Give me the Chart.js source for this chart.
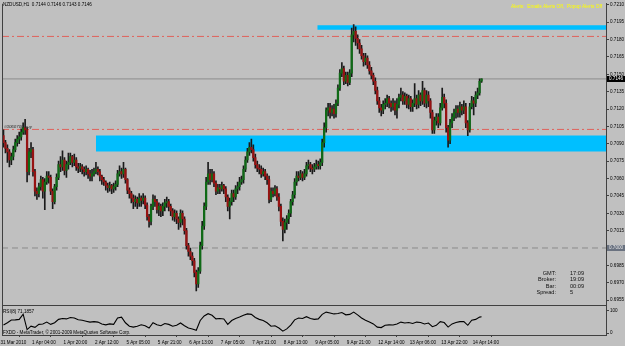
<!DOCTYPE html>
<html>
<head>
<meta charset="utf-8">
<script src="https://cdn.jsdelivr.net/npm/chart.js@4.4.0/dist/chart.umd.min.js"></script>
<style>
  html, body { margin: 0; padding: 0; background: #c0c0c0; }
  canvas { display: block; }
</style>
</head>
<body>
<canvas id="chart" width="625" height="346"></canvas>
<script>
// NZDUSD H1 candles, prices in pips (x 0.0001), open = previous close
const firstOpen = 7097;
const closes = [
  7091,7086,7083,7076,7079,7085,7091,7094,7096,7100,
  7104,7102,7066,7083,7085,7066,7049,7047,7053,7059,
  7049,7057,7062,7061,7049,7040,7053,7061,7072,7070,
  7076,7067,7072,7074,7079,7074,7076,7070,7069,7070,
  7068,7066,7068,7064,7062,7064,7066,7068,7066,7062,
  7059,7057,7054,7052,7054,7051,7053,7055,7064,7066,
  7064,7068,7059,7050,7047,7043,7040,7042,7039,7043,
  7041,7043,7037,7027,7023,7036,7042,7040,7033,7036,
  7032,7036,7039,7040,7036,7032,7027,7030,7025,7022,
  7030,7025,7015,7002,6997,6993,6989,6979,6969,6980,
  7002,7019,7036,7057,7064,7059,7064,7056,7049,7052,
  7051,7054,7051,7044,7036,7040,7047,7044,7051,7053,
  7057,7059,7068,7076,7083,7087,7085,7078,7072,7069,
  7068,7064,7066,7062,7059,7042,7049,7047,7051,7044,
  7036,7023,7016,7022,7025,7030,7040,7046,7057,7062,
  7061,7064,7061,7064,7071,7072,7069,7068,7070,7072,
  7071,7074,7091,7104,7119,7121,7117,7120,7116,7125,
  7138,7151,7155,7144,7149,7143,7151,7184,7187,7181,
  7177,7172,7166,7161,7164,7158,7153,7149,7144,7136,
  7127,7121,7119,7124,7125,7129,7125,7122,7125,7119,
  7124,7130,7132,7127,7131,7124,7129,7122,7125,7129,
  7124,7132,7127,7136,7125,7132,7127,7117,7102,7110,
  7113,7108,7121,7130,7125,7104,7093,7108,7113,7117,
  7120,7117,7122,7119,7122,7108,7102,7122,7127,7125,
  7132,7134,7144,7146
];
const highs = [
  7102,7093,7089,7085,7082,7088,7094,7097,7100,7103,
  7108,7111,7104,7086,7091,7087,7068,7052,7056,7062,
  7061,7060,7066,7066,7063,7051,7055,7064,7075,7079,
  7084,7078,7075,7082,7082,7080,7081,7078,7073,7073,
  7072,7070,7071,7069,7067,7068,7069,7074,7070,7068,
  7063,7061,7058,7056,7057,7055,7056,7058,7067,7071,
  7069,7074,7069,7060,7052,7049,7046,7045,7044,7047,
  7045,7047,7045,7039,7029,7038,7046,7045,7042,7039,
  7038,7039,7042,7044,7042,7038,7034,7033,7032,7027,
  7033,7032,7027,7017,7004,7000,6996,6991,6981,6983,
  7005,7023,7039,7061,7074,7068,7068,7066,7058,7055,
  7055,7057,7055,7053,7046,7043,7050,7050,7054,7057,
  7061,7062,7071,7079,7086,7091,7094,7089,7081,7075,
  7072,7071,7069,7068,7064,7062,7052,7052,7054,7053,
  7047,7038,7026,7025,7028,7033,7042,7049,7060,7066,
  7066,7067,7066,7068,7074,7076,7074,7072,7073,7076,
  7075,7077,7094,7108,7121,7125,7125,7123,7124,7128,
  7141,7154,7160,7157,7152,7152,7154,7190,7193,7191,
  7184,7180,7175,7168,7168,7166,7161,7156,7151,7147,
  7139,7130,7124,7127,7129,7132,7131,7127,7129,7127,
  7129,7133,7138,7135,7134,7133,7132,7131,7128,7142,
  7132,7136,7134,7144,7138,7136,7135,7129,7119,7113,
  7116,7116,7125,7138,7133,7128,7106,7111,7116,7120,
  7123,7123,7126,7124,7127,7125,7110,7125,7131,7130,
  7135,7138,7146,7146
];
const lows = [
  7087,7082,7074,7070,7072,7076,7083,7088,7090,7093,
  7098,7098,7057,7063,7078,7062,7045,7042,7044,7050,
  7043,7033,7055,7056,7046,7034,7038,7050,7059,7066,
  7067,7063,7061,7068,7072,7070,7071,7067,7065,7066,
  7064,7062,7063,7060,7058,7058,7062,7064,7063,7058,
  7055,7054,7050,7048,7049,7047,7048,7050,7053,7062,
  7060,7061,7056,7047,7043,7039,7034,7036,7034,7036,
  7036,7038,7034,7024,7018,7020,7033,7036,7030,7028,
  7027,7028,7032,7035,7032,7028,7024,7023,7021,7016,
  7018,7020,7012,6999,6993,6990,6985,6975,6963,6966,
  6978,6999,7016,7033,7055,7055,7057,7053,7046,7047,
  7047,7049,7047,7040,7032,7025,7037,7040,7042,7047,
  7050,7055,7056,7066,7074,7080,7082,7075,7069,7066,
  7064,7061,7062,7059,7055,7039,7040,7044,7045,7041,
  7032,7019,7006,7013,7016,7021,7027,7037,7043,7054,
  7058,7059,7058,7059,7062,7068,7066,7064,7066,7068,
  7068,7068,7071,7087,7100,7114,7112,7114,7112,7113,
  7123,7136,7148,7141,7142,7140,7141,7148,7178,7175,
  7172,7168,7163,7157,7158,7155,7150,7146,7141,7133,
  7124,7117,7114,7116,7120,7122,7121,7118,7119,7115,
  7112,7121,7127,7124,7124,7121,7120,7118,7118,7122,
  7120,7121,7123,7124,7122,7121,7122,7112,7099,7099,
  7106,7104,7106,7119,7121,7100,7087,7090,7104,7110,
  7112,7113,7113,7115,7116,7104,7097,7100,7120,7115,
  7122,7129,7132,7143
];

// RSI(8) sampled at these bars
const rsiBars = [
  0,2,4,6,8,10,12,14,16,18,20,22,24,26,28,30,32,34,36,38,
  40,42,44,46,48,50,52,54,56,58,60,62,64,66,68,70,72,74,76,78,
  80,82,84,86,88,90,92,94,96,98,100,102,104,106,108,110,112,114,116,118,
  120,122,124,126,128,130,132,134,136,138,140,142,144,146,148,150,152,154,156,158,
  160,162,164,166,168,170,172,174,176,178,180,182,184,186,188,190,192,194,196,198,
  200,202,204,206,208,210,212,214,216,218,220,222,224,226,228,230,232,234,236,238,
  240,242,243
];
const rsiValues = [
  35,45,57,58,60,83,15,30,25,38,40,48,38,45,60,64,62,68,66,58,
  56,52,48,50,48,40,36,40,38,66,70,45,30,26,30,36,32,22,45,36,
  32,42,38,30,34,44,32,22,18,12,55,75,85,78,62,64,62,38,55,64,
  70,78,84,82,68,60,55,45,30,32,22,8,18,35,58,66,64,72,64,60,
  62,82,92,88,84,86,90,80,82,92,80,66,56,48,40,26,24,34,36,35,
  40,48,44,46,42,48,46,40,44,28,34,50,46,26,40,46,50,50,34,56,
  60,70,71.19
];

const timeTicks = [0,16,32,48,64,80,96,112,128,144,160,176,192,208,224,240];
const timeLabels = ['31 Mar 2010','1 Apr 04:00','1 Apr 20:00','2 Apr 12:00','5 Apr 05:00',
  '5 Apr 21:00','6 Apr 13:00','7 Apr 05:00','7 Apr 21:00','8 Apr 13:00','9 Apr 05:00',
  '9 Apr 21:00','12 Apr 14:00','13 Apr 06:00','13 Apr 22:00','14 Apr 14:00'];
const priceTicks = [0.7210,0.7195,0.7180,0.7165,0.7150,0.7135,0.7120,0.7105,0.7090,
  0.7075,0.7060,0.7045,0.7030,0.7015,0.7000,0.6985,0.6970,0.6955];
const rsiTicks = [0, 100];

const redLevels = [0.71827, 0.71024];
const roundLevel = 0.7000;
const zoneStart = [159.5, 47];
const zoneTop = [0.71923, 0.70971];
const zoneBottom = [0.71885, 0.70834];

const xMin = -0.75, xMax = 306.25;
const tiny = {family: 'Liberation Sans', size: 4.6};

const opens = closes.map((c, i) => (i === 0 ? firstOpen : closes[i - 1]));
const bodyData = closes.map((c, i) => ({x: i, y: [opens[i] / 1e4, c / 1e4]}));
const wickData = closes.map((c, i) => ({
  x: i,
  y: [Math.min(lows[i], opens[i], c) / 1e4, Math.max(highs[i], opens[i], c) / 1e4]
}));
const bodyColors = closes.map((c, i) => (c >= opens[i] ? '#0f6a16' : '#961212'));
const lastClose = closes[closes.length - 1] / 1e4;

function hline(y, color, dash) {
  return {
    type: 'line', yAxisID: 'y', order: 5,
    data: [{x: xMin, y: y}, {x: xMax, y: y}],
    borderColor: color, borderWidth: 1, borderDash: dash,
    pointRadius: 0, fill: false
  };
}

const datasets = [];
zoneStart.forEach((s, k) => {
  datasets.push({
    type: 'line', yAxisID: 'y', order: 10,
    data: [{x: s, y: zoneTop[k]}, {x: xMax, y: zoneTop[k]}],
    borderWidth: 0, pointRadius: 0, fill: '+1', backgroundColor: '#00bfff'
  });
  datasets.push({
    type: 'line', yAxisID: 'y', order: 10,
    data: [{x: s, y: zoneBottom[k]}, {x: xMax, y: zoneBottom[k]}],
    borderWidth: 0, pointRadius: 0, fill: false
  });
});
redLevels.forEach(v => datasets.push(hline(v, '#e0605a', [7, 3, 2, 3])));
datasets.push(hline(roundLevel, '#8a8a8a', [6, 4]));
datasets.push(hline(lastClose, '#8c8c8c', []));
datasets.push({
  type: 'bar', yAxisID: 'y', order: 2, grouped: false,
  data: wickData, backgroundColor: '#1a1a1a', barThickness: 1, borderWidth: 0
});
datasets.push({
  type: 'bar', yAxisID: 'y', order: 1, grouped: false,
  data: bodyData, backgroundColor: bodyColors, barThickness: 1.6,
  borderWidth: 0, minBarLength: 1
});
datasets.push({
  type: 'line', yAxisID: 'rsi', order: 0,
  data: rsiBars.map((b, k) => ({x: b, y: rsiValues[k]})),
  borderColor: '#000', borderWidth: 1.1, pointRadius: 0, tension: 0, fill: false
});

const mtDecor = {
  id: 'mtDecor',
  beforeDraw(chart) {
    const {ctx, width, height} = chart;
    ctx.save();
    ctx.fillStyle = '#c0c0c0';
    ctx.fillRect(0, 0, width, height);
    ctx.restore();
  },
  afterDraw(chart) {
    const {ctx, chartArea} = chart;
    const y = chart.scales.y;
    const r = chart.scales.rsi;
    ctx.save();
    ctx.strokeStyle = '#404040';
    ctx.lineWidth = 1;
    ctx.beginPath();
    ctx.moveTo(chartArea.left + 0.5, chartArea.top);
    ctx.lineTo(chartArea.left + 0.5, chartArea.bottom);
    ctx.moveTo(chartArea.left, Math.round(r.top) + 0.5);
    ctx.lineTo(chartArea.right, Math.round(r.top) + 0.5);
    ctx.stroke();

    ctx.textBaseline = 'middle';
    ctx.font = '4.6px "Liberation Sans"';
    ctx.fillStyle = '#000';
    ctx.textAlign = 'left';
    ctx.fillText('NZDUSD,H1  0.7144 0.7146 0.7143 0.7146', 3, 5);
    ctx.fillText('RSI(8) 71.1857', 3, 311.5);
    ctx.fillText('FXDD - MetaTrader, \u00a9 2001-2009 MetaQuotes Software Corp.', 3, 332.5);
    ctx.fillStyle = '#2a2a2a';
    ctx.font = 'italic 4.4px "Liberation Sans"';
    ctx.fillText('#0060700 buy', 4, y.getPixelForValue(redLevels[1]) - 3);

    ctx.font = '4.8px "Liberation Sans"';
    ctx.fillStyle = '#ffff00';
    ctx.textAlign = 'right';
    ctx.fillText('Alerts:  Emails Alerts Off,  Popup Alerts Off', 602, 6.5);

    const info = [['GMT:', '17:09'], ['Broker:', '19:09'], ['Bar:', '00:09'], ['Spread:', '5']];
    ctx.font = '5.6px "Liberation Sans"';
    ctx.fillStyle = '#111';
    info.forEach((row, k) => {
      const ty = 273 + k * 6.6;
      ctx.textAlign = 'right';
      ctx.fillText(row[0], 556, ty);
      ctx.textAlign = 'left';
      ctx.fillText(row[1], 570, ty);
    });

    // price tags on the axis
    ctx.font = '4.6px "Liberation Sans"';
    ctx.textAlign = 'left';
    const tag = (v, fill, text) => {
      const py = Math.round(y.getPixelForValue(v));
      ctx.fillStyle = fill;
      ctx.fillRect(chartArea.right + 1, py - 3, 19, 6);
      ctx.fillStyle = text;
      ctx.fillText(v.toFixed(4), chartArea.right + 3, py);
    };
    tag(roundLevel, '#6a7280', '#e8e8e8');
    tag(lastClose, '#000', '#fff');
    ctx.restore();
  }
};

new Chart(document.getElementById('chart'), {
  type: 'bar',
  data: {datasets: datasets},
  plugins: [mtDecor],
  options: {
    responsive: false,
    animation: false,
    devicePixelRatio: 1,
    layout: {padding: {left: 2, top: 0, right: 0, bottom: 0}},
    plugins: {legend: {display: false}, tooltip: {enabled: false}},
    scales: {
      x: {
        type: 'linear', min: xMin, max: xMax, offset: false, position: 'bottom',
        afterBuildTicks: s => { s.ticks = timeTicks.map(v => ({value: v})); },
        afterFit: s => { s.height = 11; },
        ticks: {
          autoSkip: false, maxRotation: 0, align: 'start', labelOffset: -3, padding: 3,
          font: tiny, color: '#000', callback: (v, i) => timeLabels[i]
        },
        grid: {drawOnChartArea: false, tickLength: 2, color: '#404040'},
        border: {display: true, color: '#404040'}
      },
      y: {
        position: 'right', stack: 'panes', stackWeight: 305,
        min: 0.695048, max: 0.72109,
        afterBuildTicks: s => { s.ticks = priceTicks.map(v => ({value: v})); },
        afterFit: s => { s.width = 19; },
        ticks: {autoSkip: false, padding: 1, font: tiny, color: '#000', callback: v => v.toFixed(4)},
        grid: {drawOnChartArea: false, tickLength: 3, color: '#404040'},
        border: {display: true, color: '#404040'}
      },
      rsi: {
        position: 'right', stack: 'panes', stackWeight: 30,
        min: -8.7, max: 121.7,
        afterBuildTicks: s => { s.ticks = rsiTicks.map(v => ({value: v})); },
        afterFit: s => { s.width = 19; },
        ticks: {autoSkip: false, padding: 1, font: tiny, color: '#000'},
        grid: {drawOnChartArea: false, tickLength: 3, color: '#404040'},
        border: {display: true, color: '#404040'}
      }
    }
  }
});
</script>
</body>
</html>
